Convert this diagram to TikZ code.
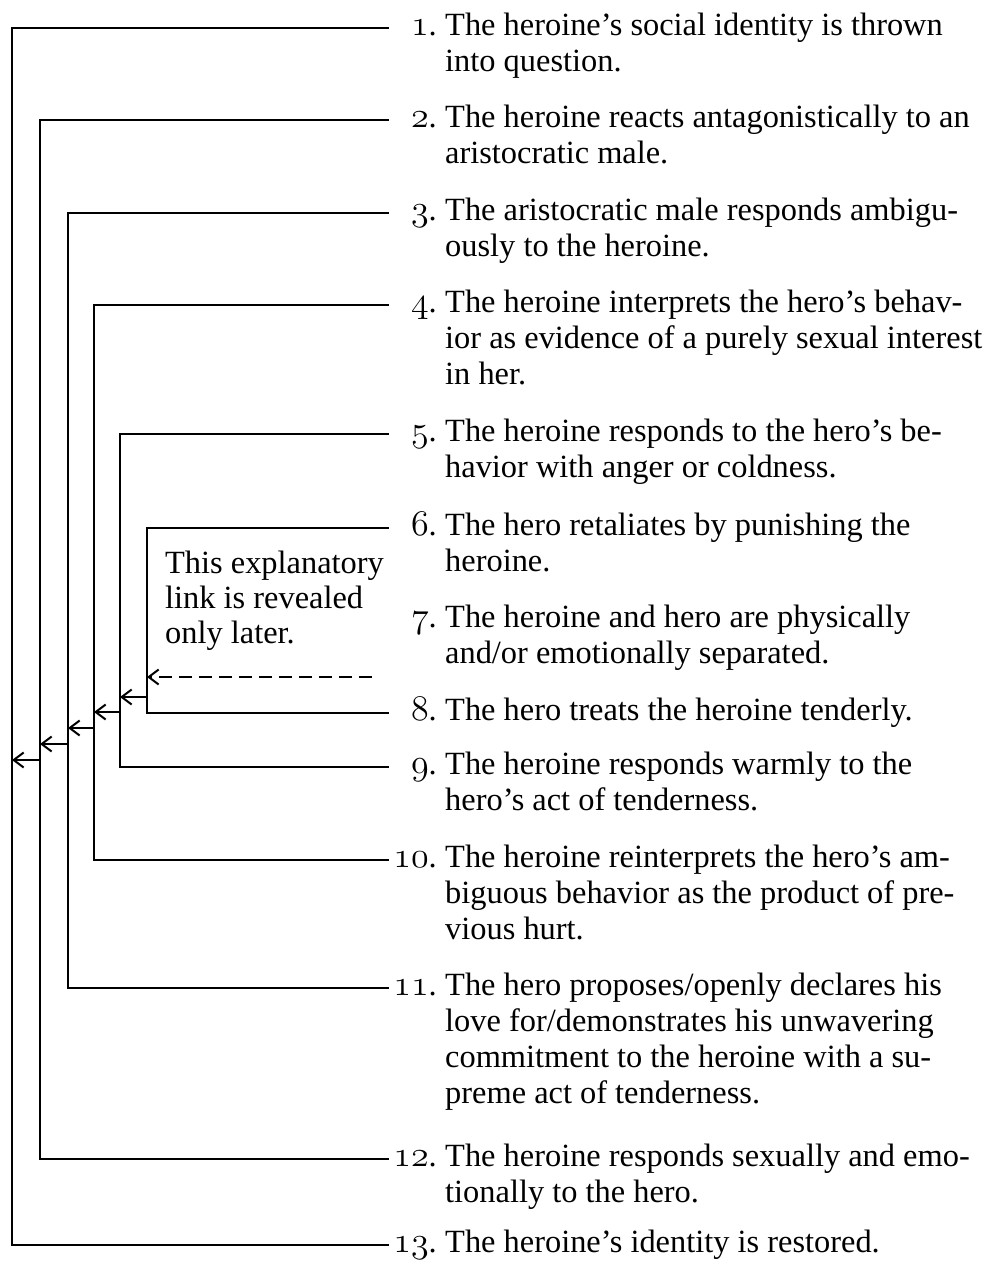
\documentclass[tikz,border=0pt]{standalone}
\usepackage{graphicx}
\usepackage{fontspec}
\setmainfont{Liberation Serif}
\usetikzlibrary{arrows.meta}
\newcommand\osn[1]{\scalebox{1.45}{\fontencoding{OML}\fontfamily{lmm}\fontseries{m}\fontshape{it}\selectfont #1}}
\newcommand\itemtext[1]{\parbox[t]{600pt}{\raggedright\fontsize{32.4}{36}\selectfont #1}}
\newcommand\notetext[1]{\parbox[t]{300pt}{\raggedright\fontsize{32.4}{35}\selectfont #1}}
\tikzset{
  num/.style={inner xsep=4pt, inner ysep=0pt, text height=14pt, text depth=0pt,
    text width=44pt, align=right, anchor=base east, font=\fontsize{32.4}{36}\selectfont},
  itm/.style={inner sep=0pt, anchor=base west},
  link/.style={line width=2.6pt},
  arr/.style={line width=2pt, -{Straight Barb[length=10pt,width=15pt]}},
  dasharr/.style={line width=2pt, dash pattern=on 13pt off 7pt, -{Straight Barb[length=10pt,width=15pt]}},
}
\begin{document}
\begin{tikzpicture}[x=1pt,y=-1pt]
\useasboundingbox (0,0) rectangle (988,1266);

% numbers
\node[num] (n1)  at (441,35)   {\osn{1}.};
\node[num] (n2)  at (441,127)  {\osn{2}.};
\node[num] (n3)  at (441,220)  {\osn{3}.};
\node[num] (n4)  at (441,312)  {\osn{4}.};
\node[num] (n5)  at (441,441)  {\osn{5}.};
\node[num] (n6)  at (441,535)  {\osn{6}.};
\node[num] (n7)  at (441,627)  {\osn{7}.};
\node[num] (n8)  at (441,720)  {\osn{8}.};
\node[num] (n9)  at (441,774)  {\osn{9}.};
\node[num] (n10) at (441,867)  {\osn{10}.};
\node[num] (n11) at (441,995)  {\osn{11}.};
\node[num] (n12) at (441,1166) {\osn{12}.};
\node[num] (n13) at (441,1252) {\osn{13}.};

% texts
\node[itm] (t1)  at (445,35)   {\itemtext{The heroine’s social identity is thrown\\into question.}};
\node[itm] (t2)  at (445,127)  {\itemtext{The heroine reacts antagonistically to an\\aristocratic male.}};
\node[itm] (t3)  at (445,220)  {\itemtext{The aristocratic male responds ambigu-\\ously to the heroine.}};
\node[itm] (t4)  at (445,312)  {\itemtext{The heroine interprets the hero’s behav-\\ior as evidence of a purely sexual interest\\in her.}};
\node[itm] (t5)  at (445,441)  {\itemtext{The heroine responds to the hero’s be-\\havior with anger or coldness.}};
\node[itm] (t6)  at (445,535)  {\itemtext{The hero retaliates by punishing the\\heroine.}};
\node[itm] (t7)  at (445,627)  {\itemtext{The heroine and hero are physically\\and/or emotionally separated.}};
\node[itm] (t8)  at (445,720)  {\itemtext{The hero treats the heroine tenderly.}};
\node[itm] (t9)  at (445,774)  {\itemtext{The heroine responds warmly to the\\hero’s act of tenderness.}};
\node[itm] (t10) at (445,867)  {\itemtext{The heroine reinterprets the hero’s am-\\biguous behavior as the product of pre-\\vious hurt.}};
\node[itm] (t11) at (445,995)  {\itemtext{The hero proposes/openly declares his\\love for/demonstrates his unwavering\\commitment to the heroine with a su-\\preme act of tenderness.}};
\node[itm] (t12) at (445,1166) {\itemtext{The heroine responds sexually and emo-\\tionally to the hero.}};
\node[itm] (t13) at (445,1252) {\itemtext{The heroine’s identity is restored.}};

% explanatory note
\node[itm] (note) at (165,573) {\notetext{This explanatory\\link is revealed\\only later.}};

% bracket verticals
\coordinate (v1) at (12,0);
\coordinate (v2) at (40,0);
\coordinate (v3) at (68,0);
\coordinate (v4) at (94,0);
\coordinate (v5) at (120,0);
\coordinate (v6) at (147,0);

\draw[link] (n1.west) -- (n1.west -| v1) |- (n13.west);
\draw[link] (n2.west) -- (n2.west -| v2) |- (n12.west);
\draw[link] (n3.west) -- (n3.west -| v3) |- (n11.west);
\draw[link] (n4.west) -- (n4.west -| v4) |- (n10.west);
\draw[link] (n5.west) -- (n5.west -| v5) |- (n9.west);
\draw[link] (n6.west) -- (n6.west -| v6) |- (n8.west);

% arrows between brackets
\coordinate (a6) at (147,697);
\coordinate (b5) at (120,697);
\coordinate (a5) at (120,712);
\coordinate (b4) at (94,712);
\coordinate (a4) at (94,728);
\coordinate (b3) at (68,728);
\coordinate (a3) at (68,744);
\coordinate (b2) at (40,744);
\coordinate (a2) at (40,760);
\coordinate (b1) at (12,760);
\draw[arr] (a6) -- (b5);
\draw[arr] (a5) -- (b4);
\draw[arr] (a4) -- (b3);
\draw[arr] (a3) -- (b2);
\draw[arr] (a2) -- (b1);

% dashed link
\coordinate (d0) at (372,677);
\coordinate (d1) at (147,677);
\draw[dasharr] (d0) -- (d1);
\end{tikzpicture}
\end{document}
